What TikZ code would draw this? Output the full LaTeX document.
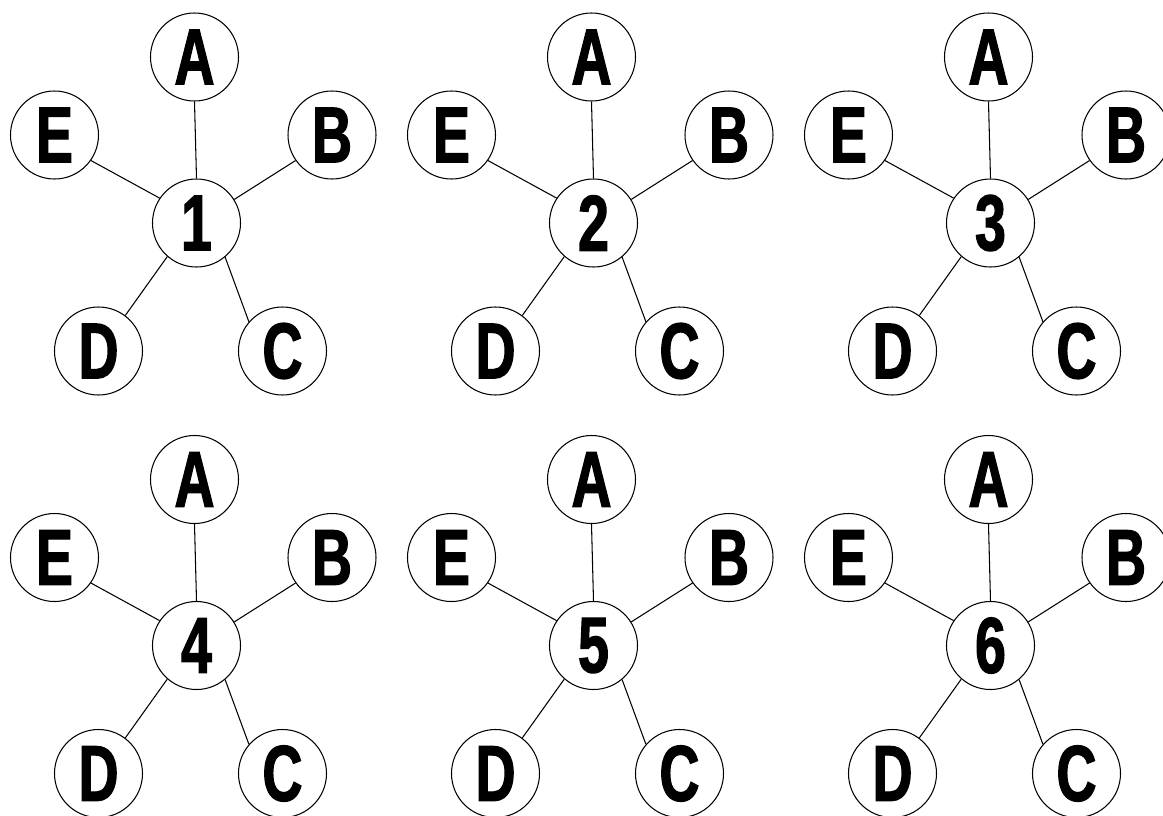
\documentclass[tikz,border=0pt]{standalone}
\usepackage{fontspec}
\newfontfamily\starfont[FakeStretch=0.7,FakeBold=1.6]{Liberation Sans Bold}
\usepackage{tikz}
\usetikzlibrary{calc,positioning}
\tikzset{
  vtx/.style={circle,draw,line width=0.6pt,minimum size=1.76cm,inner sep=0pt,
    font=\starfont\fontsize{45}{45}\selectfont},
  edge/.style={line width=0.6pt}
}

\begin{document}
\begin{tikzpicture}[x=1cm,y=1cm]
  \useasboundingbox (0,0) rectangle (23.26,-16.3);
  % one star per number: centre in the middle, five letters round it
  \foreach \n/\x/\y in {1/3.93/-4.46, 2/11.87/-4.46, 3/19.81/-4.46,
                        4/3.93/-12.91, 5/11.87/-12.91, 6/19.81/-12.91}{
    \node[vtx] (m\n) at (\x,\y) {\n};
    \node[vtx] (a\n) at ($(m\n)+(-0.04,3.32)$) {A};
    \node[vtx] (b\n) at ($(m\n)+(2.71,1.76)$) {B};
    \node[vtx] (c\n) at ($(m\n)+(1.72,-2.56)$) {C};
    \node[vtx] (d\n) at ($(m\n)+(-1.96,-2.56)$) {D};
    \node[vtx] (e\n) at ($(m\n)+(-2.84,1.76)$) {E};
    % spokes leave the centre at fixed angles
    \foreach \o/\p/\q in {a/90/-90, b/32/-145, c/-50/139, d/-131/53, e/146/-35}
      \draw[edge] (m\n.\p) -- (\o\n.\q);
  }
\end{tikzpicture}
\end{document}
